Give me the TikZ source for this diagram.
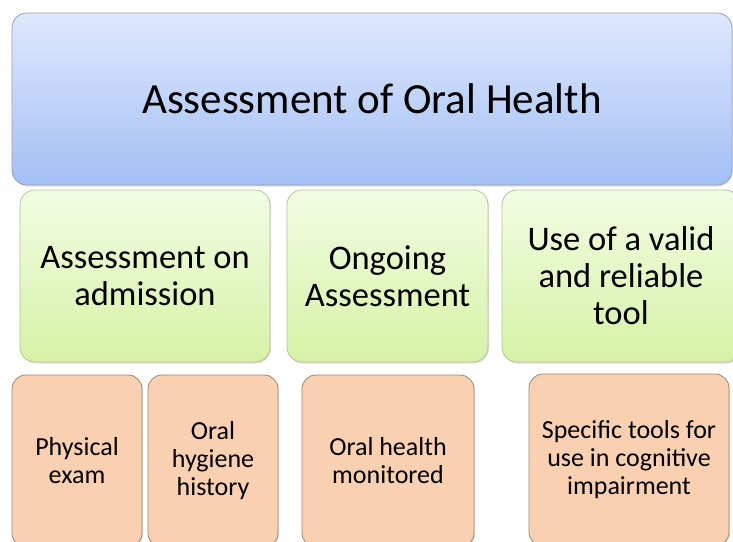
\documentclass[tikz,border=0pt]{standalone}
\usepackage{fontspec}
\setmainfont{Carlito}
\usetikzlibrary{shadows}
\definecolor{bluetop}{rgb}{0.87, 0.91, 0.99}
\definecolor{bluebot}{rgb}{0.64, 0.75, 0.96}
\definecolor{greentop}{rgb}{0.95, 0.99, 0.89}
\definecolor{greenbot}{rgb}{0.84, 0.95, 0.65}
\definecolor{peach}{rgb}{0.98, 0.82, 0.69}
\definecolor{peachline}{rgb}{0.62, 0.52, 0.45}
\definecolor{boxline}{rgb}{0.6, 0.63, 0.68}

\tikzset{
    bigbox/.style={draw=boxline, line width=0.8pt, rounded corners=15pt, align=center,
        drop shadow={opacity=0.25, shadow xshift=1pt, shadow yshift=-1.5pt}},
    headbox/.style={bigbox, top color=bluetop, bottom color=bluebot,
        minimum width=720pt, minimum height=172pt, font=\fontsize{43}{50}\selectfont},
    midbox/.style={bigbox, top color=greentop, bottom color=greenbot, draw=greenbot!60!gray,
        minimum height=172pt, font=\fontsize{34.5}{37}\selectfont},
    lowbox/.style={bigbox, fill=peach, draw=peachline, rounded corners=14pt,
        minimum height=172pt, font=\fontsize{26}{28}\selectfont}
}

\begin{document}
\begin{tikzpicture}[x=1pt, y=-1pt]

    % Fix the frame of the page and cut off what runs over its edges
    \path[use as bounding box] (0,0) rectangle (733,541);
    \clip (0,0) rectangle (733,541);
    \fill[white] (0,0) rectangle (733,541);

    % Top heading
    \node[headbox] (title) at (372,99) {Assessment of Oral Health};

    % Second row: the three kinds of assessment
    \foreach \cx/\bw/\name/\txt in {145/250/admit/{Assessment on\\admission},
                                    387.5/201/ongoing/{Ongoing\\Assessment},
                                    621/238/validtool/{Use of a valid\\and reliable\\tool}} {
        \node[midbox, minimum width=\bw pt] (\name) at (\cx,276) {\txt};
    }

    % Third row: what goes with each (boxes run off the bottom edge)
    \foreach \cx/\cy/\bw/\name/\txt in {77/461/130/physexam/{Physical\\exam},
                                        213/461/130/hygiene/{Oral\\hygiene\\history},
                                        388/461/172/monitor/{Oral health\\monitored},
                                        629/460/200/cogtools/{Specific tools for\\use in cognitive\\impairment}} {
        \node[lowbox, minimum width=\bw pt] (\name) at (\cx,\cy) {\txt};
    }

\end{tikzpicture}
\end{document}
